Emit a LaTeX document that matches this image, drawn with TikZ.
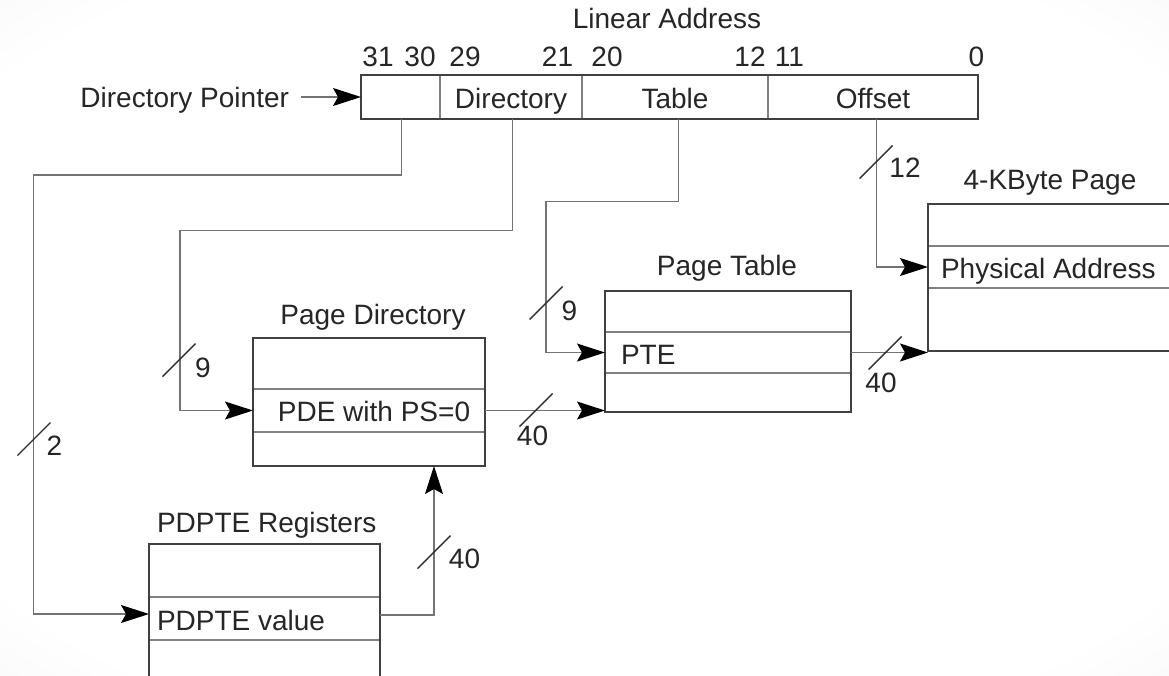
\documentclass[tikz,border=0pt]{standalone}
\usepackage{fontspec}
\setmainfont{Liberation Sans}
\usetikzlibrary{arrows.meta}
% soft paper background: white in the middle, light grey towards the corners
\pgfdeclareradialshading{paperfade}{\pgfpoint{0bp}{0bp}}{color(0bp)=(white); color(22bp)=(white); color(50bp)=(black!15)}
\tikzset{
  txt/.style={font=\fontsize{28}{32}\selectfont, text=black!85, inner sep=0pt, outer sep=0pt},
  lbl/.style={txt, anchor=base},
  lblw/.style={txt, anchor=base west},
  field/.style={txt, draw=black!50, line width=1.2pt, minimum height=44pt,
                text height=22pt, text depth=0pt, minimum width=#1},
  row/.style 2 args={draw=black!50, line width=1.2pt, inner sep=0pt, outer sep=0pt,
                     minimum width=#1, minimum height=#2},
  frame/.style={draw=black!75, line width=1.7pt},
  conn/.style={draw=black!55, line width=1.3pt},
  tip/.style={-{Stealth[length=28pt,width=18pt,inset=5pt,color=black]}},
  slash/.style={draw=black!82, line width=1.4pt},
}
\begin{document}
\begin{tikzpicture}[x=1pt,y=-1pt]
\useasboundingbox (0,0) rectangle (1169,675);
\begin{scope}
  \clip (0,0) rectangle (1169,675);
  \shade[shading=paperfade] (-242,-140) rectangle (1411,815);
\end{scope}

% ---------------- linear address ----------------
\node[lbl] (la) at (667,28) {Linear Address};
\node[field=79]  (f1)   at (400.5,97) {};
\node[field=142] (fdir) at (511,97) {Directory};
\node[field=186] (ftab) at (675,97) {Table};
\node[field=210] (foff) at (873,97) {Offset};
\draw[frame] (f1.north west) rectangle (foff.south east);

\node[lbl] (b31) at (378,66) {31};
\node[lbl] (b30) at (420,66) {30};
\node[lbl] (b29) at (465,66) {29};
\node[lbl] (b21) at (557.5,66) {21};
\node[lbl] (b20) at (607,66) {20};
\node[lbl] (b12) at (750,66) {12};
\node[lbl] (b11) at (789.5,66) {11};
\node[lbl] (b0)  at (976.5,66) {0};

\node[txt, anchor=base east] (dp) at (289,107) {Directory Pointer};
\draw[conn, tip, shorten <=12pt] (dp.east |- f1.west) -- (f1.west);

% ---------------- PDPTE registers ----------------
\node[lblw] (tpdpte) at (157,532) {PDPTE Registers};
\node[row={231}{53}] (pr1) at (264.5,570.5) {};
\node[row={231}{43}] (pdv) at (264.5,618.5) {};
\node[row={231}{60}] (pr3) at (264.5,670) {};
\draw[frame] (pr1.north west) rectangle (pr3.south east);
\node[lblw] (tpdv) at (157,630) {PDPTE value};

% ---------------- page directory ----------------
\node[lbl] (tpd) at (373,324) {Page Directory};
\node[row={232}{51}] (pd1) at (369,363.5) {};
\node[row={232}{43}] (pde) at (369,410.5) {};
\node[row={232}{34}] (pd3) at (369,449) {};
\draw[frame] (pd1.north west) rectangle (pd3.south east);
\node[lbl] (tpde) at (374,421) {PDE with PS=0};

% ---------------- page table ----------------
\node[lbl] (tpt) at (727,275) {Page Table};
\node[row={246}{41}] (pt1) at (728,311.5) {};
\node[row={246}{41}] (pte) at (728,352.5) {};
\node[row={246}{39}] (pt3) at (728,392.5) {};
\draw[frame] (pt1.north west) rectangle (pt3.south east);
\node[lblw] (tpte) at (621,364) {PTE};

% ---------------- 4-KByte page ----------------
\node[lbl] (tpg) at (1050,189) {4-KByte Page};
\node[row={282}{42}] (pg1)  at (1069,225) {};
\node[row={282}{42}] (phys) at (1069,267) {};
\node[row={282}{63}] (pg3)  at (1069,319.5) {};
\draw[frame] (pg1.north west) rectangle (pg3.south east);
\node[lblw] (tphys) at (941,278) {Physical Address};

% ---------------- routing points ----------------
\coordinate (k1) at (401.7,175);
\coordinate (k2) at (33.5,175);
\coordinate (k3) at (512.3,230.3);
\coordinate (k4) at (180,230.3);
\coordinate (k5) at (678.3,201.3);
\coordinate (k6) at (546,201.3);
\coordinate (k7) at (876.5,140);
\coordinate (k8) at (434,500);

% ---------------- connectors ----------------
\draw[conn, tip] (f1.south -| k1) -- (k1) -- (k2) |- ([yshift=4.5pt]pdv.west);
\draw[conn, tip] (fdir.south -| k3) -- (k3) -- (k4) |- (pde.west);
\draw[conn, tip] (ftab.south -| k5) -- (k5) -- (k6) |- (pte.west);
\draw[conn, tip] (foff.south -| k7) |- (phys.west);
\draw[conn, tip] ([yshift=3.5pt]pdv.east) -| (pd3.south -| k8);
\draw[conn, tip] (pde.east) -- (pde.east -| pt3.west);
\draw[conn, tip] (pte.east) -- (pte.east -| pg3.west);

% ---------------- bus width marks ----------------
\coordinate (s2)   at (34,439);
\coordinate (s9a)  at (179,360);
\coordinate (s9b)  at (546,303);
\coordinate (s12)  at (876,162);
\coordinate (s40a) at (434,552);
\coordinate (s40b) at (536,410);
\coordinate (s40c) at (885,353);
\foreach \s in {s2,s9a,s9b,s12,s40a,s40b,s40c}
  \draw[slash] ([xshift=-16.5pt,yshift=-16.5pt]\s) -- ([xshift=16.5pt,yshift=16.5pt]\s);

\node[lbl] (w2)   at (54.5,455) {2};
\node[lbl] (w9a)  at (203,377) {9};
\node[lbl] (w9b)  at (569.5,320) {9};
\node[lbl] (w12)  at (905,177) {12};
\node[lbl] (w40a) at (464.5,568) {40};
\node[lbl] (w40b) at (532.5,445) {40};
\node[lbl] (w40c) at (881,392) {40};
\end{tikzpicture}
\end{document}
